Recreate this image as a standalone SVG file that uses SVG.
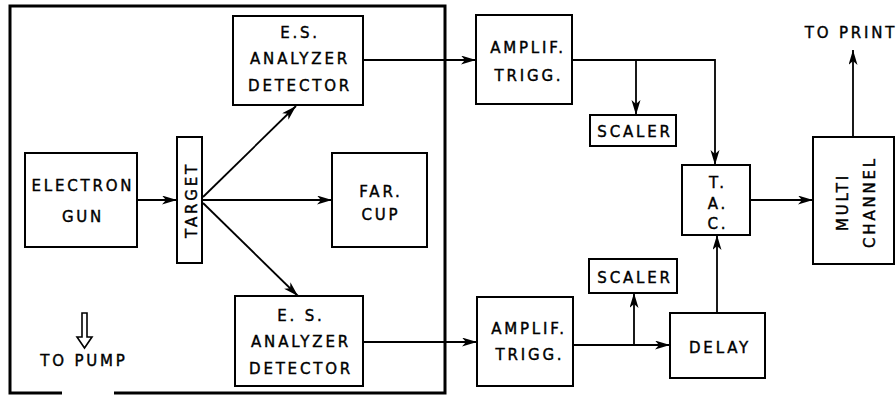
<svg xmlns="http://www.w3.org/2000/svg" width="896" height="396" viewBox="0 0 896 396">
<defs>
<style>
.box{fill:#fff;stroke:#000;stroke-width:2}
.t{font-family:"DejaVu Sans",sans-serif;font-size:15px;letter-spacing:2.8px;text-anchor:middle;fill:#000;stroke:#000;stroke-width:0.4}
.c{fill:none;stroke:#000;stroke-width:1.8}
.a{marker-end:url(#ah)}
</style>
<marker id="ah" markerUnits="userSpaceOnUse" markerWidth="16" markerHeight="10" refX="15" refY="4.5" orient="auto">
<path d="M0,0 L15,4.5 L0,9 L4,4.5 z" fill="#000"/>
</marker>
</defs>
<rect width="896" height="396" fill="#fff"/>

<g id="enclosure">
<path d="M62,393 L10,393 L10,6 L445,6 L445,393 L114,393" fill="none" stroke="#000" stroke-width="3"/>
</g>

<g id="connectors">
<line class="c a" x1="137" y1="200" x2="177" y2="200"/>
<line class="c a" x1="203" y1="200" x2="332" y2="200"/>
<line class="c a" x1="203" y1="197" x2="296" y2="106"/>
<line class="c a" x1="203" y1="203" x2="298" y2="296"/>
<line class="c a" x1="363" y1="60" x2="476" y2="60"/>
<line class="c a" x1="363" y1="342" x2="477" y2="342"/>
<polyline class="c a" points="572,60 715,60 715,165"/>
<line class="c a" x1="636" y1="60" x2="636" y2="115"/>
<line class="c a" x1="573" y1="345" x2="670" y2="345"/>
<line class="c a" x1="634" y1="345" x2="634" y2="293"/>
<line class="c a" x1="717" y1="313" x2="717" y2="235"/>
<line class="c a" x1="750" y1="200" x2="813" y2="200"/>
<line class="c a" x1="853" y1="137" x2="853" y2="50"/>
</g>

<g id="electron-gun">
<rect class="box" x="25" y="153" width="112" height="94"/>
<text class="t" x="83" y="191">ELECTRON</text>
<text class="t" x="83" y="222">GUN</text>
</g>

<g id="target">
<rect class="box" x="177" y="137" width="25" height="126"/>
<text class="t" transform="translate(197,200) rotate(-90)">TARGET</text>
</g>

<g id="far-cup">
<rect class="box" x="332" y="153" width="95" height="94"/>
<text class="t" x="381" y="197">FAR.</text>
<text class="t" x="381" y="220">CUP</text>
</g>

<g id="analyzer-top">
<rect class="box" x="233" y="16" width="130" height="89"/>
<text class="t" x="300" y="38">E.S.</text>
<text class="t" x="300" y="64">ANALYZER</text>
<text class="t" x="300" y="91">DETECTOR</text>
</g>

<g id="analyzer-bottom">
<rect class="box" x="235" y="296" width="128" height="90"/>
<text class="t" x="301" y="321">E. S.</text>
<text class="t" x="301" y="347">ANALYZER</text>
<text class="t" x="301" y="374">DETECTOR</text>
</g>

<g id="to-pump">
<path d="M82,313 L87,313 L87,337 L92,337 L84.5,348 L77,337 L82,337 Z" fill="#fff" stroke="#000" stroke-width="1.6"/>
<text class="t" x="84" y="366">TO PUMP</text>
</g>

<g id="amplif-top">
<rect class="box" x="476" y="15" width="96" height="89"/>
<text class="t" x="528" y="53">AMPLIF.</text>
<text class="t" x="529" y="81">TRIGG.</text>
</g>

<g id="scaler-top">
<rect class="box" x="590" y="115" width="86" height="31"/>
<text class="t" x="635" y="137">SCALER</text>
</g>

<g id="amplif-bottom">
<rect class="box" x="477" y="297" width="96" height="89"/>
<text class="t" x="529" y="334">AMPLIF.</text>
<text class="t" x="530" y="360">TRIGG.</text>
</g>

<g id="scaler-bottom">
<rect class="box" x="589" y="259" width="88" height="34"/>
<text class="t" x="635" y="283">SCALER</text>
</g>

<g id="delay">
<rect class="box" x="670" y="313" width="95" height="65"/>
<text class="t" x="720" y="353">DELAY</text>
</g>

<g id="tac">
<rect class="box" x="682" y="165" width="68" height="70"/>
<text class="t" x="718" y="188">T.</text>
<text class="t" x="718" y="209">A.</text>
<text class="t" x="718" y="229">C.</text>
</g>

<g id="multichannel">
<rect class="box" x="813" y="137" width="81" height="127"/>
<text class="t" transform="translate(848,202) rotate(-90)">MULTI</text>
<text class="t" transform="translate(875,202) rotate(-90)">CHANNEL</text>
</g>

<g id="to-print">
<text class="t" x="851" y="38">TO PRINT</text>
</g>
</svg>
